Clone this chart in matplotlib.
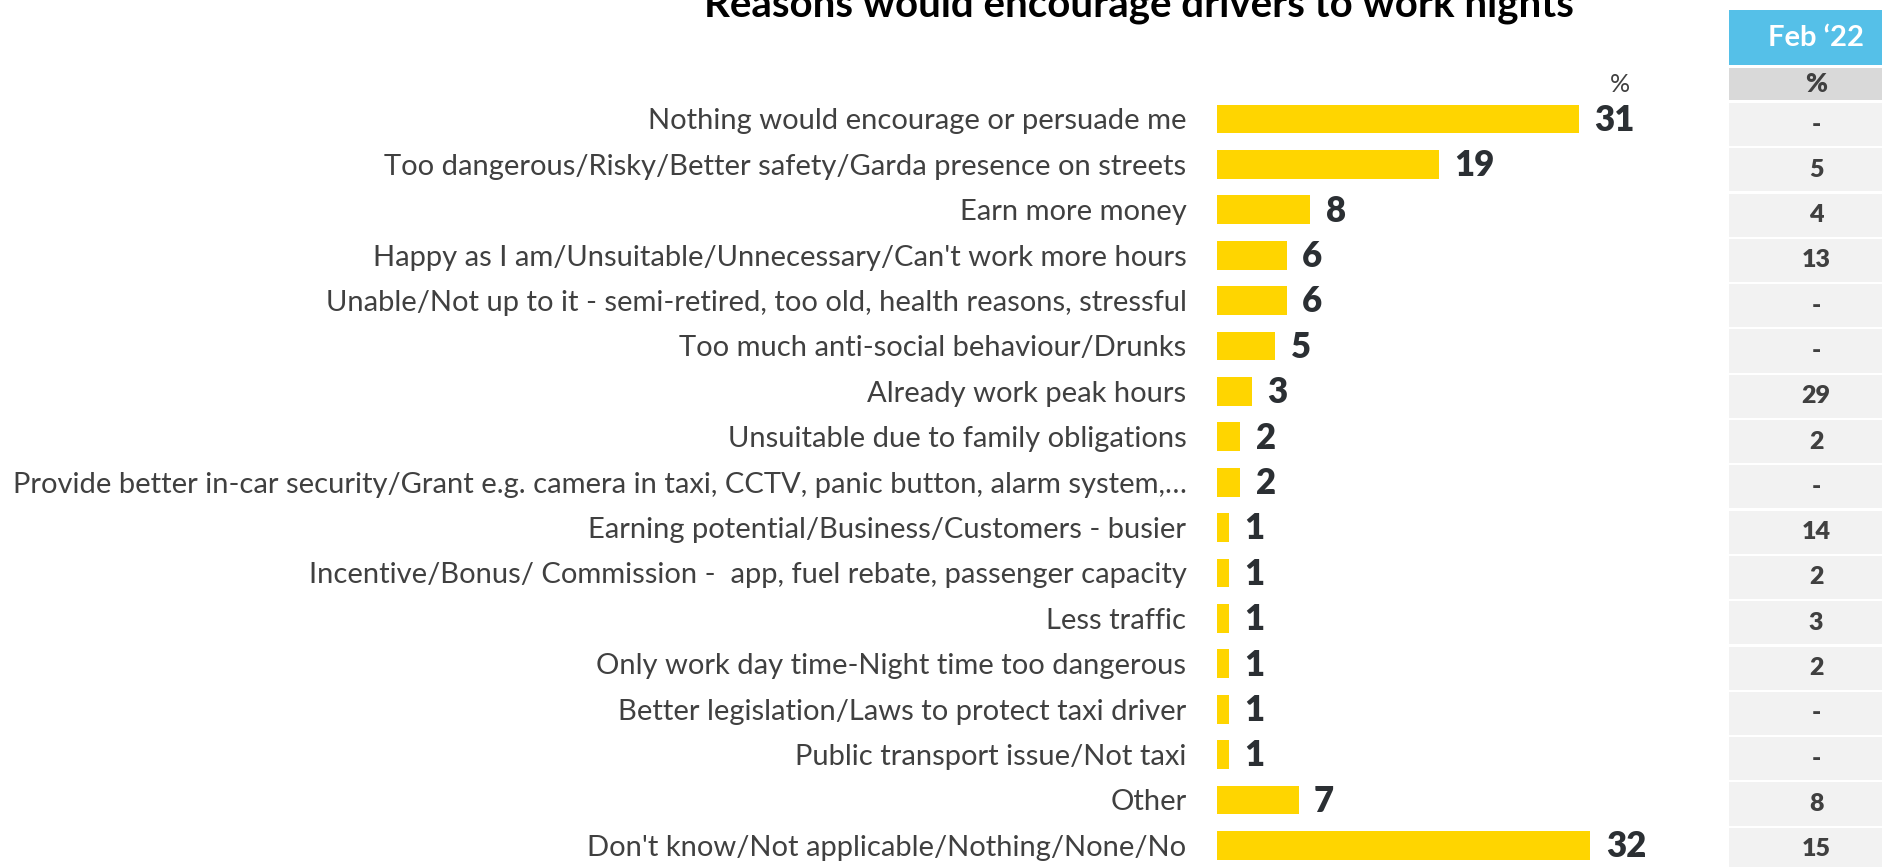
import matplotlib
matplotlib.use("Agg")
import matplotlib.pyplot as plt
from matplotlib.patches import Rectangle

# ---- data -------------------------------------------------------------
categories = [
    "Nothing would encourage or persuade me",
    "Too dangerous/Risky/Better safety/Garda presence on streets",
    "Earn more money",
    "Happy as I am/Unsuitable/Unnecessary/Can't work more hours",
    "Unable/Not up to it - semi-retired, too old, health reasons, stressful",
    "Too much anti-social behaviour/Drunks",
    "Already work peak hours",
    "Unsuitable due to family obligations",
    "Provide better in-car security/Grant e.g. camera in taxi, CCTV, panic button, alarm system,\u2026",
    "Earning potential/Business/Customers - busier",
    "Incentive/Bonus/ Commission -  app, fuel rebate, passenger capacity",
    "Less traffic",
    "Only work day time-Night time too dangerous",
    "Better legislation/Laws to protect taxi driver",
    "Public transport issue/Not taxi",
    "Other",
    "Don't know/Not applicable/Nothing/None/No",
]
values = [31, 19, 8, 6, 6, 5, 3, 2, 2, 1, 1, 1, 1, 1, 1, 7, 32]
feb22 = [None, 5, 4, 13, None, None, 29, 2, None, 14, 2, 3, 2, None, None, 8, 15]

title = "Reasons would encourage drivers to work nights"
prev_header = "Feb \u201822"
unit_label = "%"

# ---- styling ----------------------------------------------------------
plt.rcParams["font.family"] = ["Lato", "DejaVu Sans"]
BAR_COLOR = "#FFD500"
LABEL_COLOR = "#404040"
VALUE_COLOR = "#2B2F33"
HEAD_BLUE = "#55C0E8"
SUB_GREY = "#D9D9D9"
ROW_GREY = "#F2F2F2"

W, H, DPI = 1882, 867, 100
fig = plt.figure(figsize=(W / DPI, H / DPI), dpi=DPI)
fig.patch.set_facecolor("white")

# layout in pixels
x0_px, x_right_px = 1217, 1700      # bar axes horizontal extent
px_per_unit = 11.67
row0_px, row_pitch = 119.0, 45.4    # centre of first bar row, row spacing
top_px = 20

n = len(categories)
ax = fig.add_axes([x0_px / W, 0, (x_right_px - x0_px) / W, (H - top_px) / H])
ax.set_xlim(0, (x_right_px - x0_px) / px_per_unit)
ax.set_ylim((H - row0_px) / row_pitch, (top_px - row0_px) / row_pitch)

ax.barh(range(n), values, height=0.63, color=BAR_COLOR)

for i, v in enumerate(values):
    ax.annotate(str(v), (v, i), xytext=(11, -1), textcoords="offset points",
                ha="left", va="center", fontsize=25, fontweight="heavy",
                color=VALUE_COLOR)

ax.set_yticks(range(n), categories)
ax.tick_params(axis="y", length=0, pad=22, labelsize=18, labelcolor=LABEL_COLOR)
ax.set_xticks([])
for s in ax.spines.values():
    s.set_visible(False)
ax.patch.set_alpha(0)

fig.text(1620 / W, 1 - 84 / H, unit_label, ha="center", va="center",
         fontsize=18, color=LABEL_COLOR)

title_txt = fig.text(1139 / W, 1 - 17 / H, title, ha="center", va="baseline",
                     fontsize=26, fontweight="bold", color="black")

# ---- comparison column ------------------------------------------------
tab_left, tab_right = 1729, 1903
trow0, tpitch = 124.5, 45.3
tab = fig.add_axes([tab_left / W, 0, (tab_right - tab_left) / W, 1])
tab.set_xlim(0, 1)
tab.set_ylim((H - trow0) / tpitch, (0 - trow0) / tpitch)
tab.axis("off")


def prow(p):
    return (p - trow0) / tpitch


tab.add_patch(Rectangle((0, prow(10)), 1, prow(65) - prow(10), color=HEAD_BLUE, lw=0))
tab.text(0.5, (prow(10) + prow(65)) / 2, prev_header, ha="center", va="center",
         fontsize=21, fontweight="bold", color="white")
tab.add_patch(Rectangle((0, prow(68)), 1, prow(100) - prow(68), color=SUB_GREY, lw=0))
tab.text(0.5, (prow(68) + prow(100)) / 2, unit_label, ha="center", va="center",
         fontsize=19, fontweight="heavy", color=LABEL_COLOR)

for i, v in enumerate(feb22):
    tab.add_patch(Rectangle((0, i - 0.475), 1, 0.95, color=ROW_GREY, lw=0))
    tab.text(0.5, i, "-" if v is None else str(v), ha="center", va="center",
             fontsize=18, fontweight="heavy", color=LABEL_COLOR)

# size category labels so the longest one spans the left margin, title to its width
fig.canvas.draw()
r = fig.canvas.get_renderer()
labels = ax.get_yticklabels()
widest = max(t.get_window_extent(r).width for t in labels)
k = (1186 - 17) / widest
for t in labels:
    t.set_fontsize(t.get_fontsize() * k)
tw = title_txt.get_window_extent(r).width
title_txt.set_fontsize(title_txt.get_fontsize() * (1573 - 705) / tw)

fig.savefig("out.png", dpi=DPI, facecolor="white")
